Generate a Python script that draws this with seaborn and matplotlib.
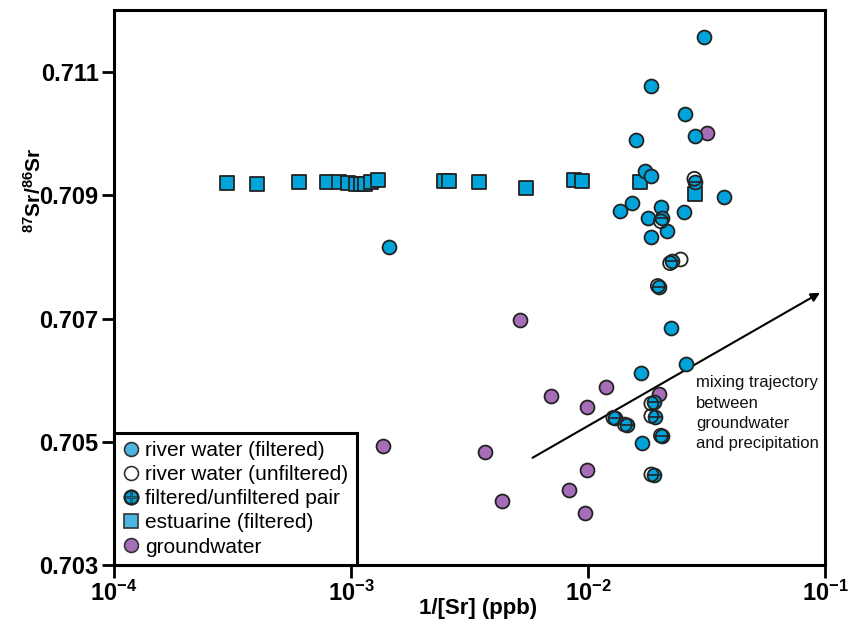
import numpy as np
import pandas as pd
import seaborn as sns
import matplotlib
matplotlib.use("Agg")
import matplotlib.pyplot as plt
from matplotlib.lines import Line2D
from matplotlib.legend_handler import HandlerTuple

# ---------------- data ----------------
# river water (filtered), single points
river_f_x = [0.0310, 0.01837, 0.0256, 0.0284, 0.0160, 0.01733, 0.0185, 0.0374,
             0.0153, 0.0137, 0.0203, 0.0255, 0.0180, 0.0216, 0.0184, 0.00144,
             0.0223, 0.0258, 0.0168, 0.0169]
river_f_y = [0.71157, 0.71077, 0.71032, 0.70997, 0.70990, 0.70940, 0.70932, 0.70897,
             0.70888, 0.70875, 0.70881, 0.70873, 0.70864, 0.70843, 0.70832, 0.70816,
             0.70684, 0.70627, 0.70611, 0.70498]
# river water (unfiltered), single point
river_u_x = [0.0246]
river_u_y = [0.70796]
# filtered/unfiltered pairs
pair_f_x = [0.0282, 0.0206, 0.0227, 0.0199, 0.0190, 0.0192, 0.0206, 0.0189, 0.0130, 0.0146]
pair_f_y = [0.70922, 0.70863, 0.70793, 0.70751, 0.70565, 0.70540, 0.70509, 0.70446, 0.70538, 0.70527]
pair_u_x = [0.0281, 0.0203, 0.0222, 0.0197, 0.0185, 0.0185, 0.0203, 0.0185, 0.0128, 0.0143]
pair_u_y = [0.70927, 0.70858, 0.70790, 0.70753, 0.70562, 0.70542, 0.70510, 0.70447, 0.70539, 0.70528]
# estuarine (filtered)
est_x = [0.000301, 0.000402, 0.000602, 0.000791, 0.000892, 0.000974, 0.00105, 0.00110,
         0.00115, 0.00122, 0.00130, 0.00247, 0.00259, 0.00348, 0.00545, 0.00869,
         0.0094, 0.0165, 0.0282]
est_y = [0.70920, 0.70919, 0.70922, 0.70921, 0.70921, 0.70920, 0.70918, 0.70918,
         0.70918, 0.70921, 0.70925, 0.70923, 0.70923, 0.70921, 0.70912, 0.70925,
         0.70923, 0.70921, 0.70903]
# groundwater
gw_x = [0.0319, 0.00517, 0.01196, 0.00699, 0.0200, 0.00991, 0.00137, 0.00367,
        0.00991, 0.00828, 0.00435, 0.00968]
gw_y = [0.71002, 0.70697, 0.70589, 0.70574, 0.70578, 0.70556, 0.70493, 0.70484,
        0.70454, 0.70422, 0.70404, 0.70384]
# mixing arrow (start, end)
arrow_x = [0.00583, 0.0953]
arrow_y = [0.70474, 0.70742]

x_ticks = [1e-4, 1e-3, 1e-2, 1e-1]
x_tick_labels = [r'$\mathbf{10^{-4}}$', r'$\mathbf{10^{-3}}$', r'$\mathbf{10^{-2}}$', r'$\mathbf{10^{-1}}$']
y_ticks = [0.703, 0.705, 0.707, 0.709, 0.711]
y_tick_labels = ['0.703', '0.705', '0.707', '0.709', '0.711']

# ---------------- style ----------------
sns.set_style("ticks")
plt.rcParams['font.family'] = ['Liberation Sans', 'DejaVu Sans']
plt.rcParams['mathtext.fontset'] = 'custom'
plt.rcParams['mathtext.rm'] = 'Liberation Sans'
plt.rcParams['mathtext.bf'] = 'Liberation Sans:bold'
plt.rcParams['mathtext.it'] = 'Liberation Sans:italic'
plt.rcParams['text.color'] = 'black'
plt.rcParams['axes.labelcolor'] = 'black'

BLUE = '#00A4DA'
PURPLE = '#A86DB8'
S = 100

fig = plt.figure(figsize=(8.51, 6.26), dpi=100)
ax = fig.add_axes([114/851, 61/626, 711/851, 555/626])

df_est = pd.DataFrame({'x': est_x, 'y': est_y})
df_rf = pd.DataFrame({'x': river_f_x, 'y': river_f_y})
df_ru = pd.DataFrame({'x': river_u_x, 'y': river_u_y})
df_pf = pd.DataFrame({'x': pair_f_x, 'y': pair_f_y})
df_pu = pd.DataFrame({'x': pair_u_x, 'y': pair_u_y})
df_gw = pd.DataFrame({'x': gw_x, 'y': gw_y})

kw = dict(ax=ax, legend=False, linewidth=1.3, edgecolor='#222222')
sns.scatterplot(data=df_est, x='x', y='y', marker='s', s=S, color=BLUE, zorder=3, **kw)
sns.scatterplot(data=df_gw, x='x', y='y', marker='o', s=S, color=PURPLE, zorder=3, **kw)
sns.scatterplot(data=df_rf, x='x', y='y', marker='o', s=S, color=BLUE, zorder=4, **kw)
sns.scatterplot(data=df_ru, x='x', y='y', marker='o', s=S, color='none', zorder=4, **kw)
sns.scatterplot(data=df_pf, x='x', y='y', marker='o', s=S, color=BLUE, zorder=5, **kw)
sns.scatterplot(data=df_pu, x='x', y='y', marker='o', s=S, color='none', zorder=6, **kw)
ax.scatter(pair_f_x, pair_f_y, marker='_', s=S, color='#222222', linewidths=1.2, zorder=6)

ax.set_xscale('log')
ax.set_xlim(1e-4, 1e-1)
ax.set_ylim(0.703, 0.71201)
ax.set_xticks(x_ticks)
ax.set_xticklabels(x_tick_labels)
ax.xaxis.set_minor_locator(matplotlib.ticker.NullLocator())
ax.set_yticks(y_ticks)
ax.set_yticklabels(y_tick_labels)
for lab in ax.get_yticklabels():
    lab.set_fontweight('bold')
ax.tick_params(axis='both', which='major', direction='out', length=9, width=2,
               labelsize=17, color='black', labelcolor='black', pad=2)
for sp in ax.spines.values():
    sp.set_linewidth(2.2)
    sp.set_color('black')
    sp.set_visible(True)

ax.set_xlabel('1/[Sr] (ppb)', fontsize=16, fontweight='bold', color='black')
ax.xaxis.set_label_coords(0.512, -0.06)
ax.set_ylabel(r'$\mathbf{^{87}Sr/^{86}Sr}$', fontsize=15, fontweight='bold', color='black')
ax.yaxis.set_label_coords(-0.098, 0.676)

# mixing arrow
ax.annotate('', xy=(arrow_x[1], arrow_y[1]), xytext=(arrow_x[0], arrow_y[0]),
            arrowprops=dict(arrowstyle='-|>', color='black', lw=1.5,
                            mutation_scale=13, shrinkA=0, shrinkB=0), zorder=2)
ax.text(0.0285, 0.70608, 'mixing trajectory\nbetween\ngroundwater\nand precipitation',
        fontsize=12, va='top', ha='left', linespacing=1.45, color='#111111')

# legend
ms = 10
h_rf = Line2D([], [], ls='none', marker='o', ms=ms, mfc='#4DB5E2', mec='#333333', mew=1.2)
h_ru = Line2D([], [], ls='none', marker='o', ms=ms, mfc='white', mec='#333333', mew=1.2)
h_p1 = Line2D([], [], ls='none', marker='o', ms=ms, mfc=BLUE, mec='#222222', mew=1.2)
h_p2 = Line2D([], [], ls='none', marker='$\u2295$', ms=ms + 1, mfc='none', mec='#222222', mew=0.6)
h_est = Line2D([], [], ls='none', marker='s', ms=ms - 0.5, mfc='#4DB5E2', mec='#333333', mew=1.2)
h_gw = Line2D([], [], ls='none', marker='o', ms=ms, mfc=PURPLE, mec='#333333', mew=1.2)
leg = ax.legend([h_rf, h_ru, (h_p1, h_p2), h_est, h_gw],
                ['river water (filtered)', 'river water (unfiltered)',
                 'filtered/unfiltered pair', 'estuarine (filtered)', 'groundwater'],
                handler_map={tuple: HandlerTuple(ndivide=1, pad=0)},
                loc='lower left', bbox_to_anchor=(0, 0), borderaxespad=0,
                fontsize=15, frameon=True, fancybox=False, edgecolor='black',
                framealpha=1, handlelength=0.8, handletextpad=0.3,
                labelspacing=0.25, borderpad=0.4)
leg.get_frame().set_linewidth(2.2)
leg.set_zorder(10)
for t in leg.get_texts():
    t.set_color('black')

fig.savefig('out.png', dpi=100)
